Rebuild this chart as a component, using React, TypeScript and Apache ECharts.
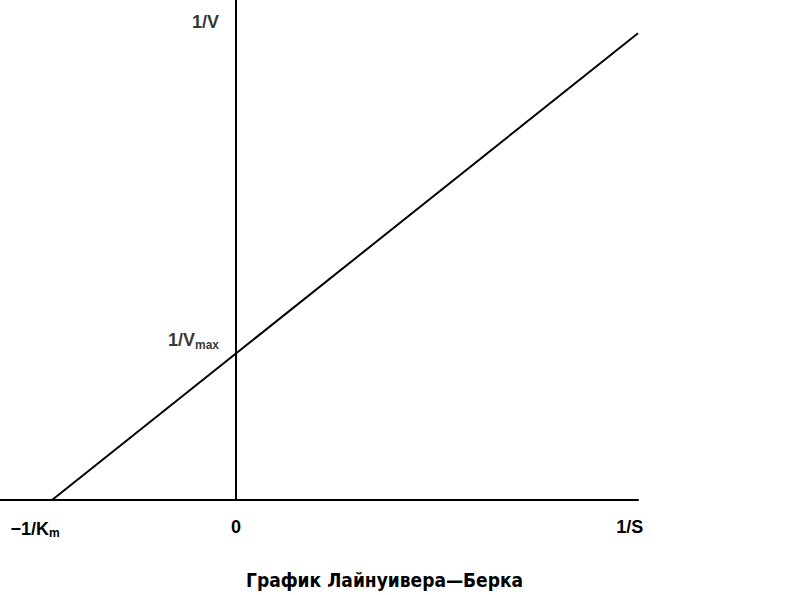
import React, { useEffect, useRef } from "react";
import * as echarts from "echarts";

// Lineweaver–Burk plot (arbitrary units: -1/Km = -1)
const xRange = [-1.283, 2.185];
const yRange = [0, 2.71];
const lineX = [-1, 2.185];
const lineY = [0, 2.53];
const xTickValues = [-1, 0, 2.14];
const xTickLabels = ["{t|−1/K}{sk|m}", "{t|0}", "{t|1/S}"];
const yLabelValues = [0.865, 2.59];
const yLabelTexts = ["{t|1/V}{s|max}", "{t|1/V}"];
const title = "График Лайнуивера—Берка";

const FONT = "'Liberation Sans', Arial, sans-serif";

export default function App() {
  const ref = useRef<HTMLDivElement>(null);
  useEffect(() => {
    if (!ref.current) return;
    const chart = echarts.init(ref.current, null, { renderer: "svg" });
    const lineData = lineX.map((x, i) => [x, lineY[i]]);
    const rich = {
      t: { fontSize: 18, fontFamily: FONT, fontWeight: "bold", color: "#000" },
      s: { fontSize: 12, fontFamily: FONT, fontWeight: "bold", color: "#000", padding: [9, 0, 0, 0] },
      sk: { fontSize: 12, fontFamily: FONT, fontWeight: "bold", color: "#000", padding: [9, 34, 0, 0] },
    };
    chart.setOption({
      animation: false,
      backgroundColor: "#fff",
      title: {
        text: title,
        left: 241,
        top: 565,
        textStyle: {
          fontFamily: "'DejaVu Sans Condensed', 'Liberation Sans Narrow', sans-serif",
          fontSize: 19,
          fontWeight: "bold",
          color: "#000",
        },
      },
      grid: { left: 0, right: 149, top: 0, bottom: 95, outerBoundsMode: "none", containLabel: false },
      xAxis: {
        type: "value",
        min: xRange[0],
        max: xRange[1],
        axisLine: { show: true, onZero: true, lineStyle: { color: "#000", width: 2 } },
        axisTick: { show: false },
        splitLine: { show: false },
        axisLabel: {
          customValues: xTickValues,
          margin: 18,
          formatter: (v: number) => {
            const i = xTickValues.findIndex((x) => Math.abs(x - v) < 1e-6);
            return i >= 0 ? xTickLabels[i] : "";
          },
          rich,
        },
      },
      yAxis: {
        type: "value",
        min: yRange[0],
        max: yRange[1],
        axisLine: { show: true, onZero: true, lineStyle: { color: "#000", width: 2 } },
        axisTick: { show: false },
        splitLine: { show: false },
        axisLabel: { show: false },
      },
      series: [
        {
          type: "line",
          data: lineData,
          symbol: "none",
          lineStyle: { color: "#000", width: 2 },
          silent: true,
        },
        {
          type: "scatter",
          data: yLabelValues.map((y, i) => ({ value: [0, y], name: yLabelTexts[i] })),
          symbolSize: 0,
          silent: true,
          label: {
            show: true,
            position: "left",
            distance: 17,
            formatter: (p: any) => p.name,
            rich,
          },
        },
      ],
    });
    return () => chart.dispose();
  }, []);
  return (
    <div
      ref={ref}
      style={{ position: "absolute", left: 0, top: 0, width: 787, height: 595 }}
    />
  );
}
